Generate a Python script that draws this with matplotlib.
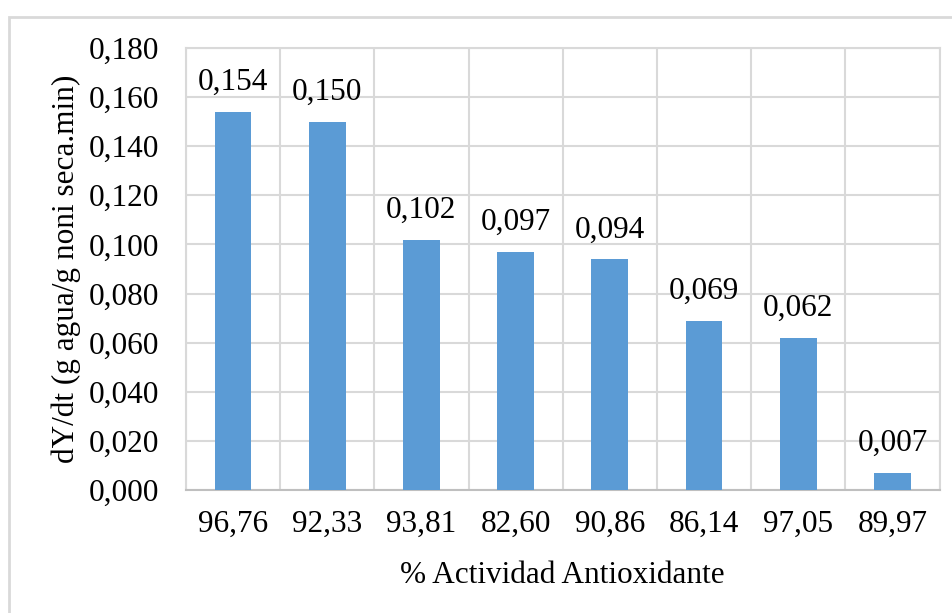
import matplotlib.pyplot as plt
import numpy as np
from matplotlib.patches import Rectangle

plt.rcParams['font.family'] = ['Liberation Serif', 'DejaVu Serif']

actividad = ['96,76', '92,33', '93,81', '82,60', '90,86', '86,14', '97,05', '89,97']
dydt = [0.154, 0.150, 0.102, 0.097, 0.094, 0.069, 0.062, 0.007]
yticks = [0.0, 0.02, 0.04, 0.06, 0.08, 0.10, 0.12, 0.14, 0.16, 0.18]

fig = plt.figure(figsize=(9.53, 6.13), dpi=100)
# marco exterior del gráfico
fig.patches.append(Rectangle((0.009, -0.05), 1.2, 1.022, transform=fig.transFigure,
                             fill=False, edgecolor='#d9d9d9', linewidth=2))
ax = fig.add_axes([0.195, 0.2007, 0.791, 0.721])

x = np.arange(len(actividad))
ax.bar(x, dydt, width=0.39, color='#5b9bd5', zorder=3)
for xi, v in zip(x, dydt):
    ax.text(xi, v + 0.006, f'{v:.3f}'.replace('.', ','), ha='center', va='bottom', fontsize=22.5)

ax.set_xlim(-0.5, len(actividad) - 0.5)
ax.set_ylim(0, 0.18)
ax.set_yticks(yticks)
ax.set_yticklabels([f'{t:.3f}'.replace('.', ',') for t in yticks])
ax.set_xticks(x)
ax.set_xticklabels(actividad)
ax.set_xticks(np.arange(len(actividad) + 1) - 0.5, minor=True)
ax.tick_params(axis='both', which='both', length=0, labelsize=22.5)
ax.tick_params(axis='x', pad=14)
ax.tick_params(axis='y', pad=19)

ax.grid(axis='y', color='#d9d9d9', linewidth=1.5, zorder=0)
ax.grid(axis='x', which='minor', color='#d9d9d9', linewidth=1.5, zorder=0)
for s in ax.spines.values():
    s.set_color('#d9d9d9')
    s.set_linewidth(1.5)
ax.spines['bottom'].set_color('#bfbfbf')

ax.set_xlabel('% Actividad Antioxidante', fontsize=22.5, labelpad=16)
ax.set_ylabel('dY/dt (g agua/g noni seca.min)', fontsize=22.5, labelpad=6)

fig.savefig('out.png', dpi=100)
